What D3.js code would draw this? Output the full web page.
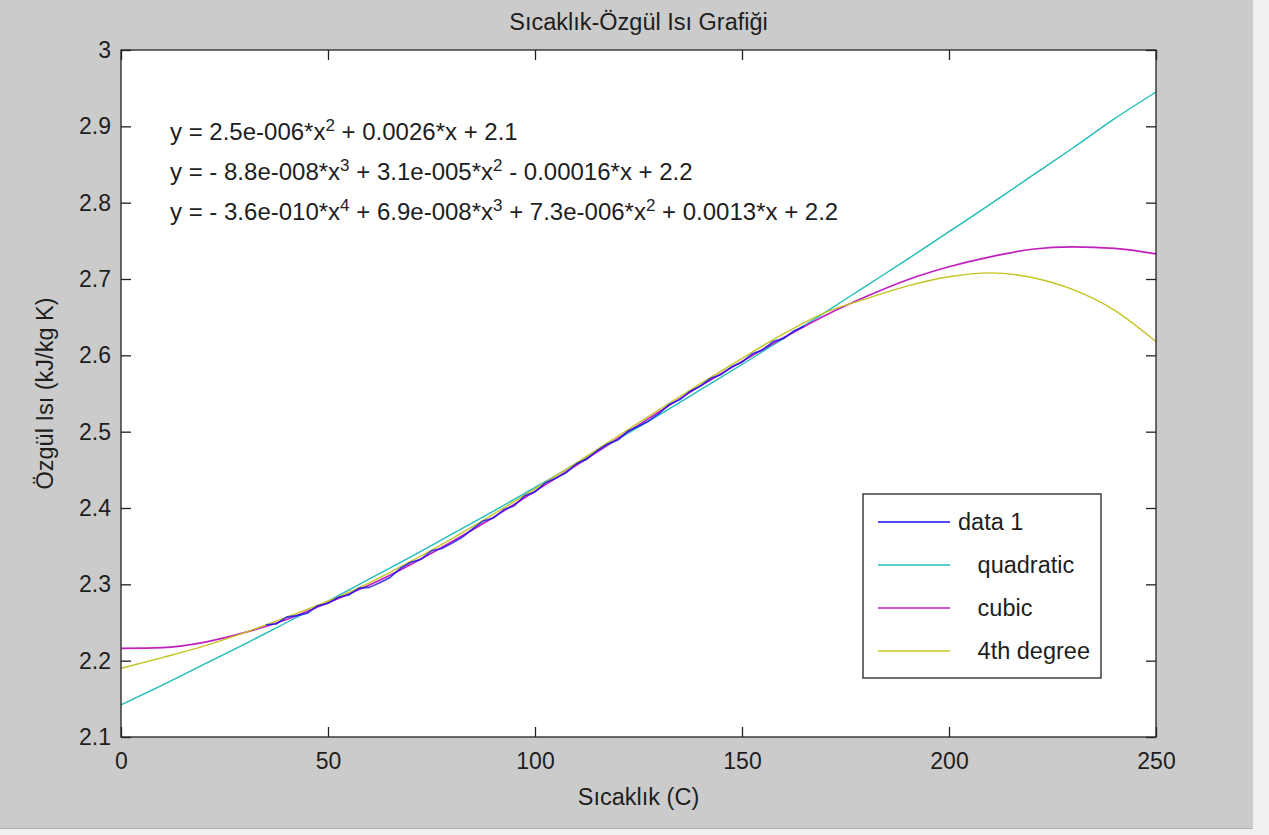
<!DOCTYPE html>
<html>
<head>
<meta charset="utf-8">
<title>Sıcaklık-Özgül Isı Grafiği</title>
<script src="https://cdn.jsdelivr.net/npm/d3@7"></script>
<style>
	body { margin: 0; background: #f0f0f0; }
	svg { display: block; }
	text { font-family: "Liberation Sans", Arial, sans-serif; fill: #1e1e1e; }
</style>
</head>
<body>
<svg width="1269" height="835"></svg>
<script>
// measured specific heat (data 1)
var dataTemps = [35, 37.5, 40, 42.5, 45, 47.5, 50, 52.5, 55, 57.5, 60, 62.5, 65, 67.5,
	70, 72.5, 75, 77.5, 80, 82.5, 85, 87.5, 90, 92.5, 95, 97.5, 100, 102.5, 105,
	107.5, 110, 112.5, 115, 117.5, 120, 122.5, 125, 127.5, 130, 132.5, 135, 137.5,
	140, 142.5, 145, 147.5, 150, 152.5, 155, 157.5, 160, 162.5, 165];
var dataValues = [2.247, 2.248, 2.257, 2.259, 2.262, 2.272, 2.275, 2.283, 2.286, 2.295,
	2.296, 2.302, 2.309, 2.321, 2.329, 2.333, 2.344, 2.347, 2.354, 2.362, 2.373, 2.383,
	2.387, 2.398, 2.403, 2.416, 2.421, 2.433, 2.439, 2.446, 2.458, 2.464, 2.475, 2.484,
	2.489, 2.501, 2.507, 2.514, 2.524, 2.536, 2.542, 2.553, 2.560, 2.570, 2.575, 2.585,
	2.591, 2.602, 2.607, 2.618, 2.622, 2.632, 2.638];

// fitted curves, sampled every 10 C
var fitTemps = [0, 10, 20, 30, 40, 50, 60, 70, 80, 90, 100, 110, 120, 130, 140, 150,
	160, 170, 180, 190, 200, 210, 220, 230, 240, 250];
var quadratic = [2.142, 2.168, 2.195, 2.222, 2.250, 2.278, 2.307, 2.336, 2.366, 2.396,
	2.427, 2.458, 2.490, 2.522, 2.555, 2.588, 2.622, 2.656, 2.691, 2.726, 2.762, 2.798,
	2.835, 2.872, 2.910, 2.945];
var cubic = [2.216, 2.217, 2.224, 2.237, 2.254, 2.276, 2.299, 2.326, 2.356, 2.388,
	2.422, 2.456, 2.491, 2.526, 2.560, 2.592, 2.623, 2.652, 2.677, 2.699, 2.716, 2.729,
	2.739, 2.742, 2.740, 2.733];
var quartic = [2.190, 2.204, 2.219, 2.237, 2.257, 2.278, 2.302, 2.330, 2.360, 2.392,
	2.425, 2.459, 2.494, 2.529, 2.563, 2.596, 2.628, 2.656, 2.674, 2.691, 2.703, 2.708,
	2.702, 2.686, 2.659, 2.618];

var xTicks = [0, 50, 100, 150, 200, 250];
var yTicks = [2.1, 2.2, 2.3, 2.4, 2.5, 2.6, 2.7, 2.8, 2.9, 3];

var legendLabels = ['data 1', '   quadratic', '   cubic', '   4th degree'];
var seriesColors = ['#1010f0', '#20bcbc', '#c020c0', '#c4c420'];

// fit equations, [text, superscript] pairs
var equations = [
	[['y = 2.5e-006*x', '2'], [' + 0.0026*x + 2.1', '']],
	[['y = - 8.8e-008*x', '3'], [' + 3.1e-005*x', '2'], [' - 0.00016*x + 2.2', '']],
	[['y = - 3.6e-010*x', '4'], [' + 6.9e-008*x', '3'], [' + 7.3e-006*x', '2'], [' + 0.0013*x + 2.2', '']]
];

var svg = d3.select('svg');
var fs = 23.5;

// figure background
svg.append('rect')
	.attr('width', 1253).attr('height', 828)
	.attr('fill', '#cbcbcb');
svg.append('line')
	.attr('x1', 0).attr('x2', 1253).attr('y1', 828.5).attr('y2', 828.5)
	.attr('stroke', '#b0b0b0');

var pLeft = 121, pRight = 1156, pTop = 50, pBottom = 737;

var x = d3.scaleLinear().domain([0, 250]).range([pLeft, pRight]);
var y = d3.scaleLinear().domain([2.1, 3]).range([pBottom, pTop]);

svg.append('rect')
	.attr('x', pLeft).attr('y', pTop)
	.attr('width', pRight - pLeft).attr('height', pBottom - pTop)
	.attr('fill', '#fff');

// curves
var plot = svg.append('g');
var line = d3.line()
	.x(function(d) { return x(d[0]); })
	.y(function(d) { return y(d[1]); });
var smooth = d3.line()
	.curve(d3.curveMonotoneX)
	.x(function(d) { return x(d[0]); })
	.y(function(d) { return y(d[1]); });

function pairs(xs, ys) {
	return xs.map(function(v, i) { return [v, ys[i]]; });
}

var fits = [quadratic, cubic, quartic];
fits.forEach(function(vals, i) {
	plot.append('path')
		.datum(pairs(fitTemps, vals))
		.attr('fill', 'none')
		.attr('stroke', seriesColors[i + 1])
		.attr('stroke-width', i == 1 ? 1.7 : 1.4)
		.attr('stroke-linejoin', 'round')
		.attr('d', smooth);
});
plot.append('path')
	.datum(pairs(dataTemps, dataValues))
	.attr('fill', 'none')
	.attr('stroke', seriesColors[0])
	.attr('stroke-opacity', 0.8)
	.attr('stroke-width', 1.6)
	.attr('stroke-linejoin', 'round')
	.attr('d', line);

// axes: ticks point inward on all four sides
var tl = 10;
var bottomAxis = d3.axisBottom(x).tickValues(xTicks).tickSize(-tl).tickPadding(16).tickFormat(d3.format('d'));
var topAxis = d3.axisTop(x).tickValues(xTicks).tickSize(-tl).tickFormat('');
var leftAxis = d3.axisLeft(y).tickValues(yTicks).tickSize(-tl).tickPadding(10).tickFormat(String);
var rightAxis = d3.axisRight(y).tickValues(yTicks).tickSize(-tl).tickFormat('');

function styleAxis(g) {
	g.select('.domain').remove();
	g.selectAll('.tick line').attr('stroke', '#222').attr('stroke-width', 1.3);
	g.selectAll('.tick text')
		.attr('font-family', null)
		.style('font-size', '23px')
		.attr('fill', null);
}

svg.append('g').attr('transform', 'translate(0,' + pBottom + ')').call(bottomAxis).call(styleAxis);
svg.append('g').attr('transform', 'translate(0,' + pTop + ')').call(topAxis).call(styleAxis);
svg.append('g').attr('transform', 'translate(' + pLeft + ',0)').call(leftAxis).call(styleAxis);
svg.append('g').attr('transform', 'translate(' + pRight + ',0)').call(rightAxis).call(styleAxis);

svg.append('rect')
	.attr('x', pLeft).attr('y', pTop)
	.attr('width', pRight - pLeft).attr('height', pBottom - pTop)
	.attr('fill', 'none')
	.attr('stroke', '#222')
	.attr('stroke-width', 1.3);

// titles
svg.append('text')
	.attr('x', (pLeft + pRight) / 2).attr('y', 30)
	.attr('text-anchor', 'middle')
	.style('font-size', fs + 'px')
	.text('Sıcaklık-Özgül Isı Grafiği');
svg.append('text')
	.attr('x', (pLeft + pRight) / 2).attr('y', 805)
	.attr('text-anchor', 'middle')
	.style('font-size', fs + 'px')
	.text('Sıcaklık (C)');
svg.append('text')
	.attr('transform', 'translate(53,' + (pTop + pBottom) / 2 + ') rotate(-90)')
	.attr('text-anchor', 'middle')
	.style('font-size', fs + 'px')
	.text('Özgül Isı (kJ/kg K)');

// equations
equations.forEach(function(parts, i) {
	var t = svg.append('text')
		.attr('x', 170).attr('y', 140 + i * 40)
		.style('font-size', '24px')
		.style('white-space', 'pre');
	var back = 0;
	parts.forEach(function(p) {
		t.append('tspan').attr('dy', back).text(p[0]);
		back = 0;
		if (p[1]) {
			t.append('tspan').attr('dy', -9).style('font-size', '17px').text(p[1]);
			back = 9;
		}
	});
});

// legend
var lg = svg.append('g');
lg.append('rect')
	.attr('x', 863).attr('y', 494)
	.attr('width', 238).attr('height', 184)
	.attr('fill', '#fff')
	.attr('stroke', '#222')
	.attr('stroke-width', 1.3);
legendLabels.forEach(function(label, i) {
	var ly = 522 + i * 43;
	lg.append('line')
		.attr('x1', 878).attr('x2', 950)
		.attr('y1', ly).attr('y2', ly)
		.attr('stroke', seriesColors[i])
		.attr('stroke-width', 1.6);
	lg.append('text')
		.attr('x', 958).attr('y', ly + 8)
		.style('font-size', fs + 'px')
		.style('white-space', 'pre')
		.text(label);
});
</script>
</body>
</html>
